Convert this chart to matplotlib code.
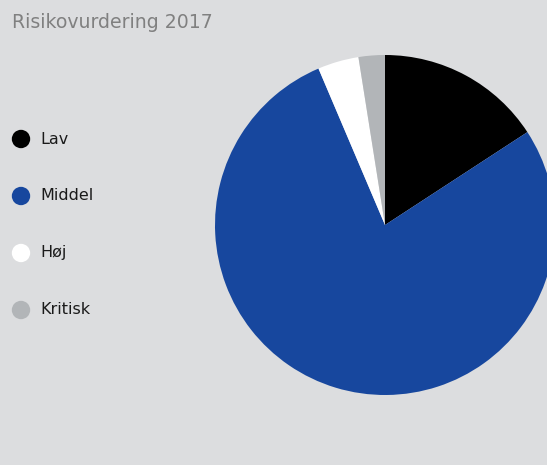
import matplotlib
matplotlib.use("Agg")
import matplotlib.pyplot as plt

# Risk assessment distribution (share of cases, %)
categories = ["Lav", "Middel", "Høj", "Kritisk"]
shares = [15.8, 77.8, 3.9, 2.5]
colors = ["#000000", "#17479e", "#ffffff", "#b2b5b8"]
title = "Risikovurdering 2017"

bg = "#dcdddf"
W, H = 547, 465

fig = plt.figure(figsize=(W / 100, H / 100), dpi=100, facecolor=bg)
ax = fig.add_axes([0, 0, 1, 1])
ax.set_facecolor(bg)

ax.pie(shares, colors=colors, startangle=90, counterclock=False,
       center=(385, H - 225), radius=170, frame=True,
       wedgeprops=dict(linewidth=0))
ax.set_xlim(0, W)
ax.set_ylim(0, H)
ax.set_aspect("equal")
ax.axis("off")

# Manual legend: dot + label per category
for i, (cat, col) in enumerate(zip(categories, colors)):
    y = H - (139 + 57 * i)
    ax.scatter([21], [y], s=175, color=col, edgecolors="none", zorder=3)
    ax.text(40, y, cat, fontsize=11.5, color="#1a1a1a", va="center",
            ha="left", family="DejaVu Sans")

fig.text(12 / W, 1 - 22 / H, title, fontsize=13.6, color="#808080",
         va="center", ha="left", family="DejaVu Sans")

fig.savefig("out.png", dpi=100, facecolor=bg)
